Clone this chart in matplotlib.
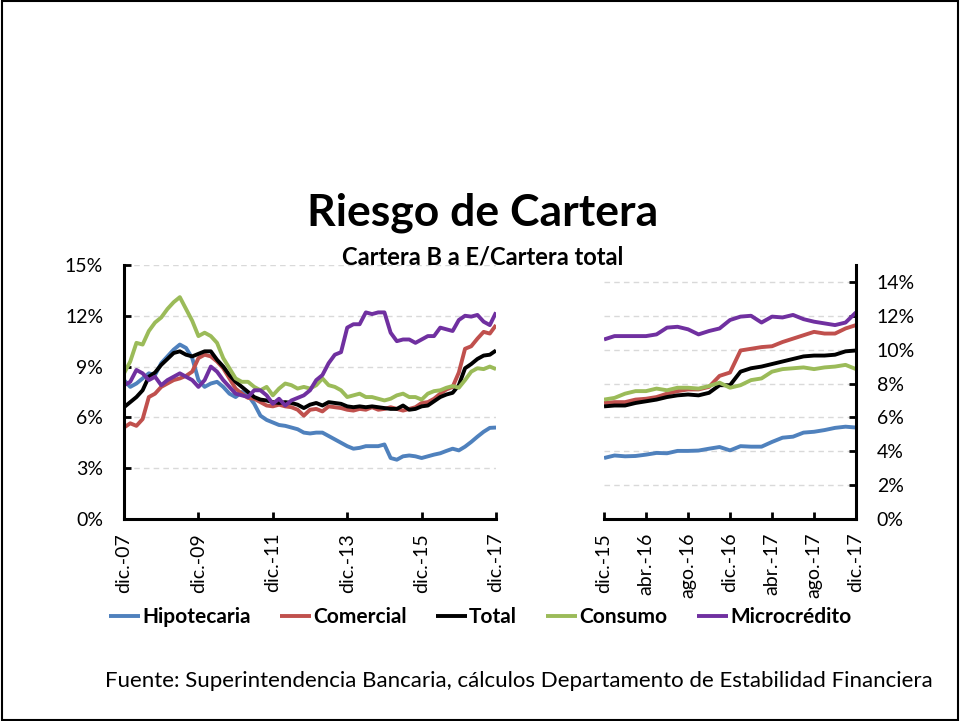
import numpy as np
import matplotlib
matplotlib.use("Agg")
import matplotlib.pyplot as plt
from matplotlib.patches import Rectangle
from matplotlib.ticker import FuncFormatter

plt.rcParams['font.family'] = ['Lato', 'DejaVu Sans']

series_names = ['Hipotecaria', 'Comercial', 'Total', 'Consumo', 'Microcrédito']
colors = ['#4F81BD', '#C0504D', '#000000', '#9BBB59', '#7030A0']

# long history, one value every two months, dic-07 .. dic-17 (%)
hist_hipotecaria = [8.2, 7.8, 8.0, 8.3, 8.6, 8.5, 9.2, 9.6, 10.0, 10.3,
                    10.1, 9.5, 8.2, 7.8, 8.0, 8.1, 7.8, 7.4, 7.2, 7.5,
                    7.3, 6.8, 6.1, 5.85, 5.7, 5.55, 5.5, 5.4, 5.3, 5.1,
                    5.05, 5.1, 5.1, 4.9, 4.7, 4.5, 4.3, 4.15, 4.2, 4.3,
                    4.3, 4.3, 4.4, 3.6, 3.5, 3.7, 3.75, 3.7, 3.6, 3.7,
                    3.8, 3.88, 4.02, 4.15, 4.05, 4.27, 4.55, 4.86, 5.15, 5.38,
                    5.4]
hist_comercial = [5.4, 5.65, 5.5, 5.9, 7.2, 7.4, 7.8, 8.0, 8.2, 8.3,
                  8.45, 8.7, 9.5, 9.7, 9.6, 9.3, 8.9, 8.3, 7.7, 7.4,
                  7.15, 7.1, 6.9, 6.7, 6.65, 6.75, 6.65, 6.6, 6.45, 6.1,
                  6.45, 6.5, 6.35, 6.65, 6.6, 6.55, 6.45, 6.4, 6.5, 6.45,
                  6.6, 6.45, 6.5, 6.6, 6.5, 6.4, 6.5, 6.6, 6.85, 6.9,
                  7.1, 7.4, 7.65, 7.8, 8.65, 10.05, 10.2, 10.65, 11.05, 10.95,
                  11.45]
hist_total = [6.6, 6.9, 7.2, 7.6, 8.4, 8.65, 9.1, 9.45, 9.8, 9.9,
              9.7, 9.6, 9.75, 9.9, 9.9, 9.4, 9.0, 8.5, 8.1, 7.8,
              7.5, 7.2, 7.05, 7.0, 6.9, 6.85, 6.9, 6.85, 6.75, 6.55,
              6.75, 6.85, 6.7, 6.9, 6.85, 6.8, 6.65, 6.6, 6.65, 6.6,
              6.65, 6.6, 6.55, 6.5, 6.5, 6.7, 6.45, 6.5, 6.65, 6.7,
              6.95, 7.2, 7.35, 7.45, 7.9, 8.9, 9.15, 9.45, 9.65, 9.7,
              9.95]
hist_consumo = [8.6, 9.3, 10.4, 10.3, 11.1, 11.6, 11.9, 12.4, 12.8, 13.1,
                12.4, 11.7, 10.8, 11.0, 10.8, 10.4, 9.5, 8.9, 8.3, 8.1,
                8.1, 7.8, 7.6, 7.8, 7.3, 7.7, 8.0, 7.9, 7.7, 7.8,
                7.7, 7.9, 8.3, 7.9, 7.8, 7.6, 7.2, 7.3, 7.4, 7.2,
                7.2, 7.1, 7.0, 7.1, 7.3, 7.4, 7.2, 7.2, 7.05, 7.4,
                7.55, 7.6, 7.75, 7.85, 7.75, 8.2, 8.7, 8.9, 8.85, 9.0,
                8.85]
hist_micro = [7.9, 8.1, 8.8, 8.6, 8.2, 8.4, 7.9, 8.2, 8.4, 8.6,
              8.4, 8.2, 7.8, 8.2, 9.0, 8.7, 8.2, 7.8, 7.4, 7.3,
              7.2, 7.6, 7.6, 7.3, 6.8, 7.1, 6.7, 7.0, 7.15, 7.3,
              7.6, 8.2, 8.5, 9.2, 9.7, 9.85, 11.3, 11.5, 11.5, 12.2,
              12.1, 12.2, 12.2, 11.0, 10.5, 10.6, 10.6, 10.4, 10.6, 10.8,
              10.8, 11.3, 11.2, 11.1, 11.75, 12.0, 11.95, 12.05, 11.65, 11.45,
              12.2]

# last two years, monthly, dic-15 .. dic-17 (%)
rec_hipotecaria = [3.6, 3.75, 3.7, 3.72, 3.8, 3.9, 3.88, 4.02, 4.02, 4.04,
                   4.15, 4.25, 4.05, 4.3, 4.27, 4.27, 4.55, 4.8, 4.86, 5.1,
                   5.15, 5.25, 5.38, 5.45, 5.4]
rec_comercial = [6.85, 6.9, 6.9, 7.05, 7.1, 7.2, 7.4, 7.55, 7.65, 7.65,
                 7.8, 8.45, 8.65, 9.95, 10.05, 10.15, 10.2, 10.45, 10.65, 10.85,
                 11.05, 10.95, 10.95, 11.25, 11.45]
rec_total = [6.65, 6.7, 6.7, 6.85, 6.95, 7.05, 7.2, 7.3, 7.35, 7.3,
             7.45, 7.9, 7.9, 8.7, 8.9, 9.0, 9.15, 9.3, 9.45, 9.6,
             9.65, 9.65, 9.7, 9.9, 9.95]
rec_consumo = [7.05, 7.15, 7.4, 7.55, 7.55, 7.7, 7.6, 7.75, 7.75, 7.7,
               7.85, 8.05, 7.75, 7.9, 8.2, 8.3, 8.7, 8.85, 8.9, 8.95,
               8.85, 8.95, 9.0, 9.1, 8.85]
rec_micro = [10.6, 10.8, 10.8, 10.8, 10.8, 10.9, 11.3, 11.35, 11.2, 10.9,
             11.1, 11.25, 11.75, 11.95, 12.0, 11.6, 11.95, 11.9, 12.05, 11.8,
             11.65, 11.55, 11.45, 11.6, 12.2]

hist_labels = ['dic.-07', 'dic.-09', 'dic.-11', 'dic.-13', 'dic.-15', 'dic.-17']
rec_labels = ['dic.-15', 'abr.-16', 'ago.-16', 'dic.-16', 'abr.-17', 'ago.-17', 'dic.-17']

hist = [hist_hipotecaria, hist_comercial, hist_total, hist_consumo, hist_micro]
rec = [rec_hipotecaria, rec_comercial, rec_total, rec_consumo, rec_micro]

fig = plt.figure(figsize=(9.6, 7.21), dpi=100)
ax1 = fig.add_axes([0.1292, 0.2802, 0.3875, 0.3523])
ax2 = fig.add_axes([0.6292, 0.2802, 0.2625, 0.3523])

x_hist = np.arange(0, 121, 2)
x_rec = np.arange(0, 25)
for vals, c, name in zip(hist, colors, series_names):
    ax1.plot(x_hist, vals, color=c, lw=2.8, label=name, solid_capstyle='butt')
for vals, c in zip(rec, colors):
    ax2.plot(x_rec, vals, color=c, lw=2.8, solid_capstyle='butt')

pct = FuncFormatter(lambda v, _: f'{v:.0f}%')

ax1.set_xlim(0, 120)
ax1.set_ylim(0, 15)
ax1.set_yticks(np.arange(0, 16, 3))
ax1.set_xticks(np.arange(0, 121, 24))
ax1.set_xticklabels(hist_labels, rotation=90)
ax1.yaxis.set_major_formatter(pct)
for s in ['top', 'right']:
    ax1.spines[s].set_visible(False)

ax2.set_xlim(0, 24)
ax2.set_ylim(0, 15)
ax2.set_yticks(np.arange(0, 15, 2))
ax2.set_xticks(np.arange(0, 25, 4))
ax2.set_xticklabels(rec_labels, rotation=90)
ax2.yaxis.set_major_formatter(pct)
ax2.yaxis.tick_right()
for s in ['top', 'left']:
    ax2.spines[s].set_visible(False)

for ax in (ax1, ax2):
    ax.grid(axis='y', color='#D9D9D9', ls=(0, (4, 3)), lw=1)
    ax.set_axisbelow(True)
    for s in ax.spines.values():
        s.set_linewidth(2.2)
    ax.tick_params(axis='y', direction='in', length=5, width=2, labelsize=14, pad=15)
    ax.tick_params(axis='x', direction='in', length=5, width=2, labelsize=14, pad=10)

fig.text(0.503, 0.7046, 'Riesgo de Cartera', ha='center', va='center',
         fontsize=32, fontweight='bold')
fig.text(0.503, 0.6436, 'Cartera B a E/Cartera total', ha='center', va='center',
         fontsize=17, fontweight='bold')

fig.legend(loc='center', bbox_to_anchor=(0.50, 1 - 617 / 721), ncol=5,
           frameon=False, handlelength=1.5, handletextpad=0.1,
           columnspacing=1.4, prop={'size': 15, 'weight': 'bold'})

fig.text(0.54, 1 - 681 / 721,
         'Fuente: Superintendencia Bancaria, cálculos Departamento de Estabilidad Financiera',
         ha='center', va='center', fontsize=16)

fig.patches.append(Rectangle((0.002, 0.002), 0.996, 0.996, transform=fig.transFigure,
                             fill=False, ec='black', lw=1.5))

fig.savefig('out.png', dpi=100)
